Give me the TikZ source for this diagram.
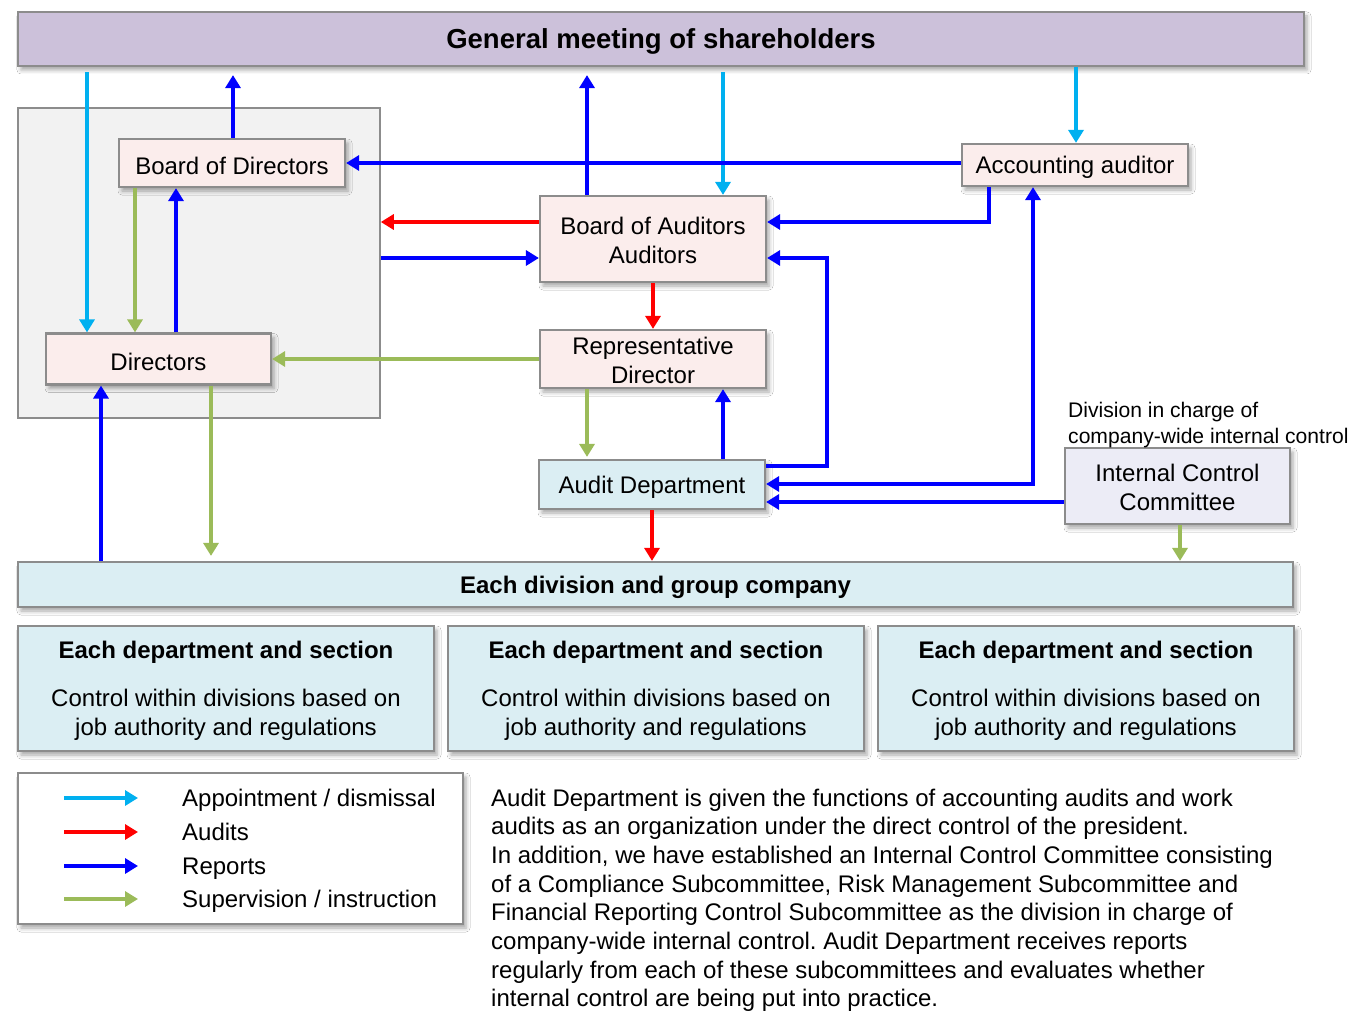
\documentclass[tikz,border=0pt]{standalone}
\usepackage{fontspec}
\setmainfont{Liberation Sans}
\usetikzlibrary{arrows.meta,calc,shadows.blur}
\frenchspacing

\definecolor{gmfill}{HTML}{CCC1DA}
\definecolor{pinkfill}{HTML}{FBEDEC}
\definecolor{bluefill}{HTML}{DBEEF3}
\definecolor{iccfill}{HTML}{ECECF6}
\definecolor{greyfill}{HTML}{F2F2F2}
\definecolor{edgegrey}{HTML}{8C8C8C}
\definecolor{appointcol}{HTML}{00B0F0}
\definecolor{auditcol}{HTML}{FF0000}
\definecolor{reportcol}{HTML}{0000FF}
\definecolor{supervcol}{HTML}{9BBB59}

\tikzset{
  softshadow/.style={blur shadow={shadow xshift=3pt, shadow yshift=-4pt,
      shadow blur radius=4pt, shadow opacity=35}},
  box/.style={draw=edgegrey, line width=2.2pt, inner sep=0pt, softshadow},
  pinkbox/.style={box, fill=pinkfill},
  bluebox/.style={box, fill=bluefill},
  boxtext/.style={inner sep=0pt, align=center, yshift=-2.5pt,
      font=\fontsize{24pt}{29pt}\selectfont},
  boxtwo/.style={boxtext, yshift=1pt},
  conn/.style={line width=4pt, -{Triangle[length=13pt,width=15pt]}},
  appoint/.style={conn, draw=appointcol},
  auditarrow/.style={conn, draw=auditcol},
  report/.style={conn, draw=reportcol},
  superv/.style={conn, draw=supervcol},
  plaintext/.style={inner sep=0pt, font=\fontsize{24pt}{29pt}\selectfont},
}

\begin{document}
\begin{tikzpicture}[x=1pt,y=-1pt]
\fill[white] (0,0) rectangle (1352,1011);
\useasboundingbox (0,0) rectangle (1352,1011);

% column and row guides for the connectors
\coordinate (xA) at (87,0);
\coordinate (xB) at (135,0);
\coordinate (xC) at (176,0);
\coordinate (xD) at (233,0);
\coordinate (xE) at (101,0);
\coordinate (xF) at (211,0);
\coordinate (xG) at (587,0);
\coordinate (xH) at (723,0);
\coordinate (xJ) at (1076,0);
\coordinate (xK) at (989,0);
\coordinate (xL) at (827,0);
\coordinate (xM) at (1033,0);
\coordinate (xN) at (1180,0);
\coordinate (r163) at (0,163);
\coordinate (r222) at (0,222);
\coordinate (r258) at (0,258);
\coordinate (r466) at (0,466);
\coordinate (r484) at (0,484);
\coordinate (r502) at (0,502);

% the directors' group
\node[draw=edgegrey, line width=1.6pt, fill=greyfill, inner sep=0pt,
      minimum width=362pt, minimum height=310pt] (grp) at (199,263) {};

% boxes
\node[box, fill=gmfill, minimum width=1286pt, minimum height=54pt,
      label={[boxtext, font=\fontsize{27.5pt}{32pt}\selectfont\bfseries]center:General meeting of shareholders}]
      (gm) at (661,39) {};
\node[pinkbox, minimum width=226pt, minimum height=48pt,
      label={[boxtext]center:Board of Directors}] (bod) at (232,163) {};
\node[pinkbox, minimum width=225pt, minimum height=51pt,
      label={[boxtext]center:Directors}] (dir) at (158.5,359) {};
\node[pinkbox, minimum width=226pt, minimum height=86pt,
      label={[boxtwo]center:{Board of Auditors\\Auditors}}] (boa) at (653,239) {};
\node[pinkbox, minimum width=226pt, minimum height=58pt,
      label={[boxtwo]center:{Representative\\Director}}] (rep) at (653,359) {};
\node[bluebox, minimum width=226pt, minimum height=49pt,
      label={[boxtext]center:Audit Department}] (aud) at (652,484.5) {};
\node[pinkbox, minimum width=226pt, minimum height=42pt,
      label={[boxtext]center:Accounting auditor}] (acc) at (1075,165) {};
\node[box, fill=iccfill, minimum width=225pt, minimum height=76pt,
      label={[boxtwo]center:{Internal Control\\Committee}}] (icc) at (1177.5,486) {};
\node[inner sep=0pt, anchor=base west, font=\fontsize{21.1pt}{26pt}\selectfont]
      (icclabel1) at (1068,417) {Division in charge of};
\node[inner sep=0pt, anchor=base west, font=\fontsize{21.1pt}{26pt}\selectfont]
      (icclabel2) at (1068,443) {company-wide internal control};
\node[bluebox, minimum width=1275pt, minimum height=45pt,
      label={[boxtext, font=\fontsize{24pt}{29pt}\selectfont\bfseries]center:Each division and group company}]
      (div) at (655.5,584.5) {};
\node[bluebox, minimum width=416pt, minimum height=125pt,
      label={[boxtext]center:{\textbf{Each department and section}\\[19pt]Control within divisions based on\\job authority and regulations}}]
      (d1) at (226,688.5) {};
\node[bluebox, minimum width=416pt, minimum height=125pt,
      label={[boxtext]center:{\textbf{Each department and section}\\[19pt]Control within divisions based on\\job authority and regulations}}]
      (d2) at (656,688.5) {};
\node[bluebox, minimum width=416pt, minimum height=125pt,
      label={[boxtext]center:{\textbf{Each department and section}\\[19pt]Control within divisions based on\\job authority and regulations}}]
      (d3) at (1086,688.5) {};

% appointment / dismissal
\draw[appoint] ($(gm.south -| xA)+(0,5)$) -- (dir.north -| xA);
\draw[appoint] ($(gm.south -| xH)+(0,5)$) -- (boa.north -| xH);
\draw[appoint] (gm.south -| xJ) -- (acc.north -| xJ);

% reports
\draw[report] (bod.north -| xD) -- ($(gm.south -| xD)+(0,8)$);
\draw[report] (boa.north -| xG) -- ($(gm.south -| xG)+(0,8)$);
\draw[report] (acc.west |- r163) -- (bod.east |- r163);
\draw[report] (acc.south -| xK) |- (boa.east |- r222);
\draw[report] (grp.east |- r258) -- (boa.west |- r258);
\draw[report] (dir.north -| xC) -- (bod.south -| xC);
\draw[report] (div.north -| xE) -- (dir.south -| xE);
\draw[report] (aud.east |- r466) -| (xL |- r258) -- (boa.east |- r258);
\draw[report] (aud.north -| xH) -- (rep.south -| xH);
\draw[report, {Triangle[length=13pt,width=15pt]}-{Triangle[length=13pt,width=15pt]}]
      (aud.east |- r484) -| (acc.south -| xM);
\draw[report] (icc.west |- r502) -- (aud.east |- r502);

% audits
\draw[auditarrow] (boa.west |- r222) -- (grp.east |- r222);
\draw[auditarrow] (boa.south) -- (rep.north);
\draw[auditarrow] (aud.south) -- (div.north -| aud.south);

% supervision / instruction
\draw[superv] (bod.south -| xB) -- (dir.north -| xB);
\draw[superv] (rep.west |- dir.east) -- (dir.east);
\draw[superv] (dir.south -| xF) -- ($(div.north -| xF)+(0,-5)$);
\draw[superv] (rep.south -| xG) -- ($(aud.north -| xG)+(0,-2)$);
\draw[superv] (icc.south -| xN) -- (div.north -| xN);

% legend
\node[draw=edgegrey, line width=1.6pt, fill=white, softshadow, inner sep=0pt,
      minimum width=445pt, minimum height=151pt] (leg) at (240.5,848.5) {};
\coordinate (l1a) at (64,798);  \coordinate (l1b) at (138,798);
\coordinate (l2a) at (64,832);  \coordinate (l2b) at (138,832);
\coordinate (l3a) at (64,866);  \coordinate (l3b) at (138,866);
\coordinate (l4a) at (64,899);  \coordinate (l4b) at (138,899);
\draw[appoint] (l1a) -- (l1b);
\draw[auditarrow] (l2a) -- (l2b);
\draw[report] (l3a) -- (l3b);
\draw[superv] (l4a) -- (l4b);
\node[plaintext, anchor=base west] (lt1) at (182,806) {Appointment / dismissal};
\node[plaintext, anchor=base west] (lt2) at (182,840) {Audits};
\node[plaintext, anchor=base west] (lt3) at (182,874) {Reports};
\node[plaintext, anchor=base west] (lt4) at (182,907) {Supervision / instruction};

% explanatory text
\node[plaintext, anchor=base west] (p1) at (491,806) {Audit Department is given the functions of accounting audits and work};
\node[plaintext, anchor=base west] (p2) at (491,834.7) {audits as an organization under the direct control of the president.};
\node[plaintext, anchor=base west] (p3) at (491,863.4) {In addition, we have established an Internal Control Committee consisting};
\node[plaintext, anchor=base west] (p4) at (491,892.1) {of a Compliance Subcommittee, Risk Management Subcommittee and};
\node[plaintext, anchor=base west] (p5) at (491,920.8) {Financial Reporting Control Subcommittee as the division in charge of};
\node[plaintext, anchor=base west] (p6) at (491,949.5) {company-wide internal control. Audit Department receives reports};
\node[plaintext, anchor=base west] (p7) at (491,978.2) {regularly from each of these subcommittees and evaluates whether};
\node[plaintext, anchor=base west] (p8) at (491,1006.9) {internal control are being put into practice.};
\end{tikzpicture}
\end{document}
